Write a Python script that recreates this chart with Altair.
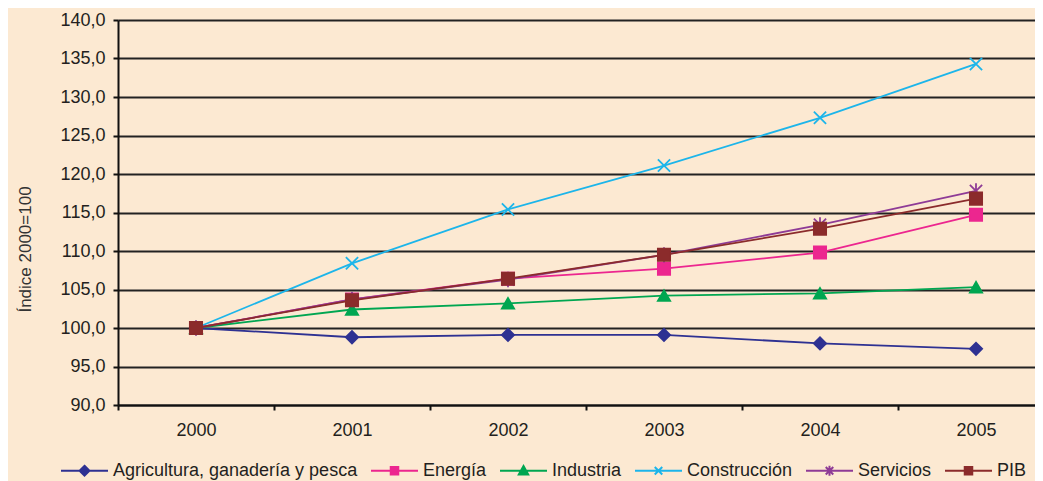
import altair as alt
import pandas as pd

years = ["2000", "2001", "2002", "2003", "2004", "2005"]
series = ["Agricultura, ganadería y pesca", "Energía", "Industria",
          "Construcción", "Servicios", "PIB"]
agricultura = [100.0, 98.8, 99.1, 99.1, 98.0, 97.3]
energia = [100.0, 103.7, 106.4, 107.7, 109.8, 114.7]
industria = [100.0, 102.4, 103.2, 104.2, 104.5, 105.3]
construccion = [100.0, 108.4, 115.4, 121.1, 127.3, 134.3]
servicios = [100.0, 103.7, 106.3, 109.5, 113.4, 117.8]
pib = [100.0, 103.6, 106.4, 109.5, 112.9, 116.8]
y_ticks = [90, 95, 100, 105, 110, 115, 120, 125, 130, 135, 140]

colors = ["#2E3192", "#EC268F", "#00A651", "#1CB5EA", "#8E3B96", "#8B2B2B"]
shapes = ["diamond", "square", "triangle-up",
          "M-1,-1L1,1M-1,1L1,-1",
          "M-1,-1L1,1M-1,1L1,-1M0,-1.25L0,1.25",
          "square"]
legend_marks = [
    "M0,-0.21L0.21,0L0,0.21L-0.21,0Z",
    "M-0.16,-0.16L0.16,-0.16L0.16,0.16L-0.16,0.16Z",
    "M0,-0.2L0.2,0.16L-0.2,0.16Z",
    "M-0.16,-0.16L0.16,0.16M-0.16,0.16L0.16,-0.16",
    "M-0.16,-0.16L0.16,0.16M-0.16,0.16L0.16,-0.16M0,-0.21L0,0.21",
    "M-0.16,-0.16L0.16,-0.16L0.16,0.16L-0.16,0.16Z",
]
legend_shapes = ["M-1,0L1,0" + m for m in legend_marks]

values = [agricultura, energia, industria, construccion, servicios, pib]
rows = []
for s, vals in zip(series, values):
    for y, v in zip(years, vals):
        rows.append({"serie": s, "año": y, "valor": v})
df = pd.DataFrame(rows)

x_enc = alt.X("año:O",
              scale=alt.Scale(type="band", domain=years, range=[0, 936],
                              paddingInner=0, paddingOuter=0),
              axis=alt.Axis(title=None, labelAngle=0, tickBand="extent",
                            tickSize=5, labelPadding=11, domainColor="#111",
                            domainWidth=2, tickColor="#111", tickWidth=2,
                            grid=False))
y_enc = alt.Y("valor:Q",
              scale=alt.Scale(domain=[90, 140], nice=False, zero=False),
              axis=alt.Axis(values=y_ticks,
                            labelExpr="replace(format(datum.value, '.1f'), '.', ',')",
                            tickSize=5, labelPadding=8, domainColor="#111",
                            domainWidth=2, tickColor="#111", tickWidth=2,
                            gridColor="#222222", gridWidth=1.8,
                            title="Índice 2000=100", titleFontSize=17,
                            titleFontWeight="normal", titleColor="#333333",
                            titleX=-93, titleY=229, titleAngle=270,
                            titleAlign="center", titleBaseline="middle"))

lines = alt.Chart(df).mark_line(strokeWidth=1.8).encode(
    x=x_enc, y=y_enc,
    stroke=alt.Stroke("serie:N", scale=alt.Scale(domain=series, range=colors),
                      legend=None),
    detail="serie:N",
)

points = alt.Chart(df).mark_point(filled=True, size=150, strokeWidth=1.8,
                                  opacity=1).encode(
    x=x_enc, y=y_enc,
    stroke=alt.Stroke("serie:N", scale=alt.Scale(domain=series, range=colors),
                      legend=None),
    fill=alt.Fill("serie:N", scale=alt.Scale(domain=series, range=colors),
                  legend=None),
    shape=alt.Shape("serie:N", scale=alt.Scale(domain=series, range=shapes),
                    legend=None),
)

leg = alt.Legend(title=None, orient="none", legendX=-58, legendY=426,
                 direction="horizontal", columns=6,
                 symbolSize=2209, symbolStrokeWidth=2, symbolOpacity=1,
                 labelFontSize=18, labelColor="#231f20", labelLimit=400,
                 labelFont="Liberation Sans", labelOffset=4,
                 columnPadding=9)

legend_layer = alt.Chart(df).transform_filter("false").mark_point(
    filled=True, size=2209, strokeWidth=2, opacity=1).encode(
    stroke=alt.Stroke("serie:N", scale=alt.Scale(domain=series, range=colors),
                      legend=leg),
    fill=alt.Fill("serie:N", scale=alt.Scale(domain=series, range=colors),
                  legend=leg),
    shape=alt.Shape("serie:N",
                    scale=alt.Scale(domain=series, range=legend_shapes),
                    legend=leg),
)

chart = alt.layer(lines, points, legend_layer).resolve_scale(
    stroke="independent", fill="independent", shape="independent"
).properties(
    width=917, height=385,
    autosize=alt.AutoSizeParams(type="none"),
    padding={"left": 110, "top": 12, "right": 0, "bottom": 76},
).configure(
    background="#FCE9D2",
).configure_view(
    fill="white", stroke=None,
).configure_axis(
    labelFont="Liberation Sans", labelFontSize=18, labelColor="#231f20",
    titleFont="Liberation Sans",
)

chart.save("out.html", embed_options={"renderer": "svg", "actions": False})
